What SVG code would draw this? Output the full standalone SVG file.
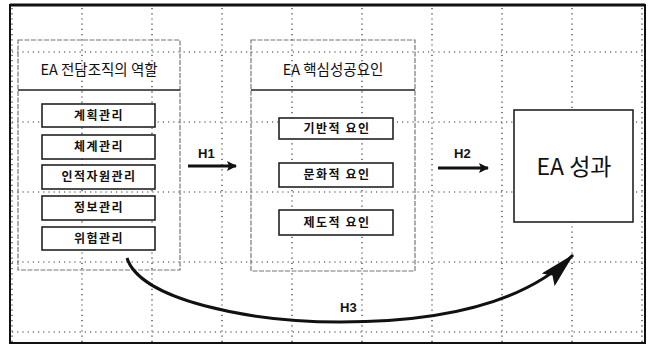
<svg xmlns="http://www.w3.org/2000/svg" width="652" height="347" viewBox="0 0 652 347">
<style>
.grid{stroke:#333;stroke-width:1.2;stroke-dasharray:1.2 4;fill:none}
.panel{fill:none;stroke:#777;stroke-width:1.2;stroke-dasharray:5 1.5}
.sep{stroke:#222;stroke-width:1.5}
.item{fill:#fff;stroke:#222;stroke-width:1.6}
.t{font-family:"Noto Sans CJK KR","Liberation Sans",sans-serif;fill:#111}
.h{font-size:14.5px;text-anchor:middle}
.i{font-size:12px;font-weight:bold;text-anchor:middle;letter-spacing:1.5px}
.lab{font-family:"Liberation Sans",sans-serif;font-weight:bold;font-size:13px;fill:#111}
.arr{stroke:#111;stroke-width:3;fill:none}
</style>
<defs>
<marker id="ah" markerWidth="10" markerHeight="10" refX="9" refY="5" orient="auto" markerUnits="userSpaceOnUse" viewBox="0 0 10 10">
<path d="M0,0 L10,5 L0,10 L2,5 Z" fill="#111"/>
</marker>
<marker id="ah3" markerWidth="36" markerHeight="18" refX="35" refY="9" orient="auto" markerUnits="userSpaceOnUse" viewBox="0 0 36 18">
<path d="M0,0 L36,9 L0,18 L6,9 Z" fill="#111"/>
</marker>
</defs>
<rect x="0" y="0" width="652" height="347" fill="#fff"/>
<g id="grid">
<path class="grid" d="M12,8V342 M82,8V342 M152,8V342 M222,8V342 M292,8V342 M362,8V342 M432,8V342 M502,8V342 M572,8V342 M642,8V342"/>
<path class="grid" d="M12,52H643 M12,122H643 M12,192H643 M12,262H643 M12,332H643"/>
</g>
<rect x="10" y="5" width="635" height="338" fill="none" stroke="#111" stroke-width="2"/>
<line x1="10" y1="5" x2="645" y2="5" stroke="#111" stroke-width="3"/>
<g id="roles">
<rect class="panel" x="18" y="40" width="162" height="230"/>
<line class="sep" x1="18" y1="90" x2="180" y2="90"/>
<text class="t h" x="99" y="75">EA 전담조직의 역할</text>
</g>
<g id="r1"><rect class="item" x="42" y="104" width="113" height="23"/><text class="t i" x="99" y="120">계획관리</text></g>
<g id="r2"><rect class="item" x="42" y="135" width="113" height="24"/><text class="t i" x="99" y="151">체계관리</text></g>
<g id="r3"><rect class="item" x="42" y="165" width="113" height="24"/><text class="t i" x="99" y="181">인적자원관리</text></g>
<g id="r4"><rect class="item" x="42" y="196" width="113" height="24"/><text class="t i" x="99" y="212">정보관리</text></g>
<g id="r5"><rect class="item" x="42" y="227" width="113" height="23"/><text class="t i" x="99" y="243">위험관리</text></g>
<g id="csf">
<rect class="panel" x="251" y="40" width="164" height="231"/>
<line class="sep" x1="251" y1="90" x2="415" y2="90"/>
<text class="t h" x="333" y="75">EA 핵심성공요인</text>
</g>
<g id="c1"><rect class="item" x="279" y="118" width="114" height="21"/><text class="t i" x="337" y="133">기반적 요인</text></g>
<g id="c2"><rect class="item" x="279" y="163" width="114" height="24"/><text class="t i" x="337" y="179">문화적 요인</text></g>
<g id="c3"><rect class="item" x="279" y="210" width="114" height="25"/><text class="t i" x="337" y="227">제도적 요인</text></g>
<g id="perf">
<rect class="item" x="514" y="110" width="119" height="112" fill="none"/>
<text class="t" x="574" y="175" font-size="23" text-anchor="middle">EA 성과</text>
</g>
<g id="connectors">
<line class="arr" x1="188" y1="166" x2="236" y2="166" marker-end="url(#ah)"/>
<text class="lab" x="198" y="158">H1</text>
<line class="arr" x1="438" y1="168" x2="488" y2="168" marker-end="url(#ah)"/>
<text class="lab" x="454" y="158">H2</text>
<path class="arr" d="M127,258 C140,300 250,322 340,322 C450,322 528,300 573,255" marker-end="url(#ah3)"/>
<text class="lab" x="340" y="312">H3</text>
</g>
</svg>
